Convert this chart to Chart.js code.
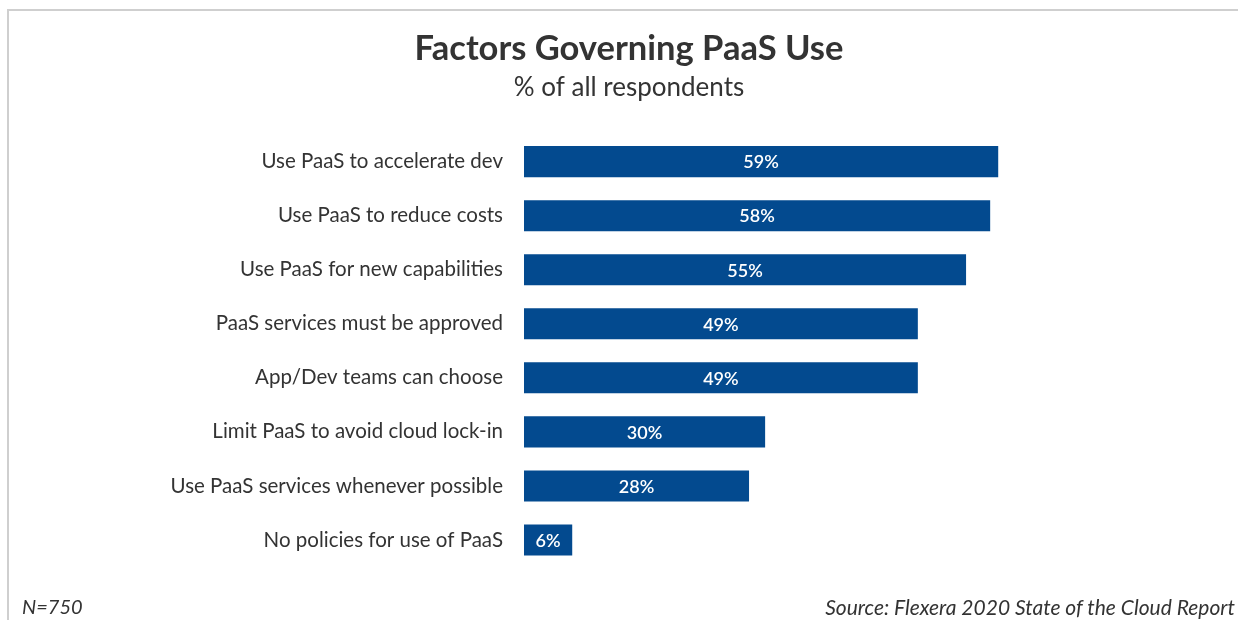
<!DOCTYPE html>
<html>
<head>
<meta charset="utf-8">
<script src="https://cdn.jsdelivr.net/npm/chart.js@4/dist/chart.umd.min.js"></script>
<style>
  html, body { margin: 0; padding: 0; background: #fff; }
  #wrap { position: relative; width: 1238px; height: 620px; overflow: hidden; }
  #frame { position: absolute; left: 7px; top: 9px; width: 1240px; height: 700px;
           border-top: 2px solid #cfcfcf; border-left: 2px solid #cfcfcf; }
  #c { position: absolute; left: 0; top: 0; }
  .foot { position: absolute; top: 594px; line-height: 25px; font-family: Lato, "Open Sans", sans-serif;
          font-style: italic; color: #333; white-space: nowrap; }
  #n { left: 22px; font-size: 20px; }
  #src { right: 3px; font-size: 21px; }
</style>
</head>
<body>
<div id="wrap">
  <div id="frame"></div>
  <canvas id="c" width="1238" height="620"></canvas>
  <div class="foot" id="n">N=750</div>
  <div class="foot" id="src">Source: Flexera 2020 State of the Cloud Report</div>
</div>
<script>
const titleText = "Factors Governing PaaS Use";
const subtitleText = "% of all respondents";
const categories = [
  "Use PaaS to accelerate dev",
  "Use PaaS to reduce costs",
  "Use PaaS for new capabilities",
  "PaaS services must be approved",
  "App/Dev teams can choose",
  "Limit PaaS to avoid cloud lock-in",
  "Use PaaS services whenever possible",
  "No policies for use of PaaS"
];
const values = [59, 58, 55, 49, 49, 30, 28, 6];

const barLabels = {
  id: 'barLabels',
  afterDatasetsDraw(chart) {
    const ctx = chart.ctx;
    const meta = chart.getDatasetMeta(0);
    ctx.save();
    ctx.fillStyle = '#ffffff';
    ctx.font = '600 18px Lato, "Open Sans", sans-serif';
    ctx.textAlign = 'center';
    ctx.textBaseline = 'middle';
    meta.data.forEach((bar, i) => {
      const cx = (bar.x + bar.base) / 2;
      ctx.fillText(values[i] + '%', cx, bar.y + 1);
    });
    ctx.restore();
  }
};

new Chart(document.getElementById('c'), {
  type: 'bar',
  data: {
    labels: categories,
    datasets: [{
      data: values,
      backgroundColor: '#034a8f',
      borderWidth: 0,
      categoryPercentage: 1,
      barPercentage: 0.574
    }]
  },
  options: {
    indexAxis: 'y',
    responsive: false,
    animation: false,
    layout: { padding: { left: 91, right: 71, top: 0, bottom: 53 } },
    plugins: {
      legend: { display: false },
      tooltip: { enabled: false },
      title: {
        display: true,
        text: titleText,
        color: '#333333',
        font: { family: 'Lato, "Open Sans", sans-serif', size: 34.5, weight: 'bold', lineHeight: 1.2 },
        padding: { top: 28, bottom: 3 }
      },
      subtitle: {
        display: true,
        text: subtitleText,
        color: '#333333',
        font: { family: 'Lato, "Open Sans", sans-serif', size: 26, weight: 'normal', lineHeight: 1.2 },
        padding: { top: 0, bottom: 31 }
      }
    },
    scales: {
      x: {
        display: false,
        min: 0,
        max: 80
      },
      y: {
        afterFit(scale) { scale.width = 433; },
        grid: { display: false, drawTicks: false },
        border: { display: false },
        ticks: {
          color: '#333333',
          padding: 21,
          font: { family: 'Lato, "Open Sans", sans-serif', size: 20.5 }
        }
      }
    }
  },
  plugins: [barLabels]
});
</script>
</body>
</html>
